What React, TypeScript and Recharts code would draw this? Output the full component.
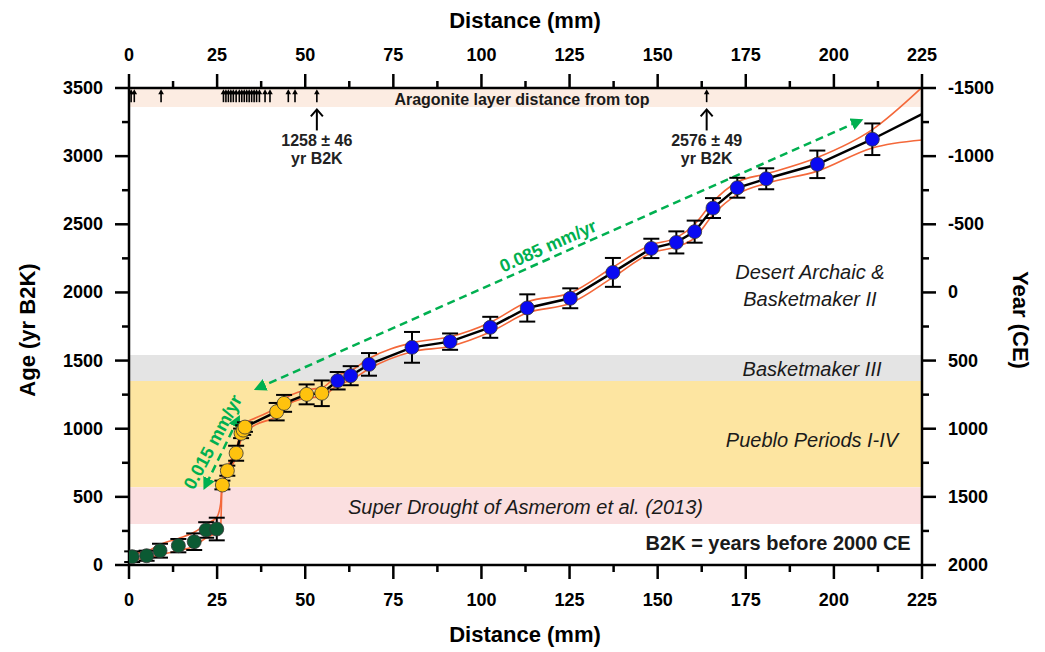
import React from 'react';
import {
  ComposedChart, Line, Scatter, XAxis, YAxis, ErrorBar,
  ReferenceArea, ReferenceLine, ReferenceDot,
} from 'recharts';

// U-Th ages: distance from top (mm), age (yr B2K), 2-sigma error
const greenDist = [0.9, 5.0, 8.8, 14.0, 18.5, 21.9, 24.9];
const greenAge = [61, 68, 105, 142, 171, 257, 264];
const greenErr = [39, 37, 51, 49, 61, 57, 83];

const yellowDist = [26.5, 27.9, 30.4, 31.8, 32.4, 32.9, 41.9, 44.0, 50.4, 54.7];
const yellowAge = [587, 692, 820, 966, 990, 1012, 1125, 1186, 1252, 1260];
const yellowErr = [32, 37, 55, 35, 35, 35, 64, 62, 73, 94];

const blueDist = [59.2, 62.9, 68.1, 80.3, 91.1, 102.5, 113.0, 125.2, 137.3, 148.2, 155.3, 160.5, 165.7, 172.6, 180.8, 195.3, 210.9];
const blueAge = [1352, 1389, 1472, 1597, 1639, 1744, 1886, 1957, 2147, 2323, 2367, 2446, 2619, 2768, 2834, 2940, 3124];
const blueErr = [64, 70, 83, 113, 60, 77, 100, 73, 106, 71, 81, 81, 73, 73, 77, 101, 116];

// age model (median) and its confidence bounds
const modelDist = [26.5, 27.9, 30.4, 31.8, 32.4, 32.9, 41.9, 44.0, 50.4, 54.7, 59.2, 62.9, 68.1, 80.3, 91.1, 102.5, 113.0, 125.2, 137.3, 148.2, 155.3, 160.5, 165.7, 172.6, 180.8, 195.3, 210.9, 225];
const modelAge = [587, 692, 820, 966, 990, 1012, 1125, 1186, 1252, 1260, 1352, 1389, 1472, 1597, 1639, 1744, 1886, 1957, 2147, 2323, 2367, 2446, 2619, 2768, 2834, 2940, 3124, 3309];

const boundDist = [0, 5, 8.8, 14, 18.5, 21.9, 24.9, 26.0, 26.4, 27.9, 30.4, 32.4, 36, 41.9, 44, 50.4, 54.7, 59.2, 62.9, 68.1, 80.3, 91.1, 102.5, 113, 125.2, 137.3, 148.2, 155.3, 160.5, 165.7, 172.6, 180.8, 195.3, 210.9, 225];
const upperAge = [80, 100, 150, 195, 240, 300, 350, 450, 615, 720, 850, 1030, 1080, 1160, 1215, 1285, 1300, 1390, 1425, 1515, 1630, 1675, 1780, 1930, 1995, 2185, 2350, 2400, 2500, 2665, 2810, 2870, 2990, 3195, 3505];
const lowerAge = [40, 50, 75, 105, 140, 200, 240, 280, 560, 665, 790, 960, 1030, 1095, 1160, 1225, 1235, 1320, 1355, 1440, 1565, 1605, 1710, 1850, 1920, 2110, 2290, 2335, 2400, 2570, 2720, 2800, 2890, 3060, 3118];

// aragonite layers (distance from top, mm)
const aragonite = [0.6, 1.5, 9.1, 26.8, 27.5, 28.2, 28.9, 29.6, 30.4, 31.3, 32.0, 32.7, 33.4, 34.1, 34.8, 35.5, 36.2, 37.0, 38.6, 40.0, 45.2, 47.1, 53.3, 163.9];

const xTicks = [0, 12.5, 25, 37.5, 50, 62.5, 75, 87.5, 100, 112.5, 125, 137.5, 150, 162.5, 175, 187.5, 200, 212.5, 225];
const ageTicks = [0, 250, 500, 750, 1000, 1250, 1500, 1750, 2000, 2250, 2500, 2750, 3000, 3250, 3500];
const ceTicks = [-1500, -1250, -1000, -750, -500, -250, 0, 250, 500, 750, 1000, 1250, 1500, 1750, 2000];

const pts = (d: number[], a: number[], e: number[]) => d.map((x, i) => ({ x, y: a[i], err: e[i] }));
const greenData = pts(greenDist, greenAge, greenErr);
const yellowData = pts(yellowDist, yellowAge, yellowErr);
const blueData = pts(blueDist, blueAge, blueErr);
const modelData = modelDist.map((x, i) => ({ x, y: modelAge[i] }));
const upperData = boundDist.map((x, i) => ({ x, y: upperAge[i] }));
const lowerData = boundDist.map((x, i) => ({ x, y: lowerAge[i] }));
const aragoniteData = aragonite.map((x) => ({ x, y: 3440 }));

const FONT = '"Liberation Sans", Arial, sans-serif';
const GREEN = '#00b050';
const TICK_FS = 18;

const BottomTick = ({ x, y, payload }: any) => {
  const major = payload.value % 25 === 0;
  return (
    <g>
      <line x1={x} x2={x} y1={y} y2={y + (major ? 14 : 7)} stroke="#000" strokeWidth={2.5} />
      {major && (
        <text x={x} y={y + 35} textAnchor="middle" dominantBaseline="central" fontFamily={FONT} fontWeight="bold" fontSize={TICK_FS}>
          {payload.value}
        </text>
      )}
    </g>
  );
};

const TopTick = ({ x, y, payload }: any) => {
  const major = payload.value % 25 === 0;
  return (
    <g>
      <line x1={x} x2={x} y1={y} y2={y - (major ? 14 : 7)} stroke="#000" strokeWidth={2.5} />
      {major && (
        <text x={x} y={y - 33} textAnchor="middle" dominantBaseline="central" fontFamily={FONT} fontWeight="bold" fontSize={TICK_FS}>
          {payload.value}
        </text>
      )}
    </g>
  );
};

const LeftTick = ({ x, y, payload }: any) => {
  const major = payload.value % 500 === 0;
  return (
    <g>
      <line x1={x} x2={x - (major ? 14 : 7)} y1={y} y2={y} stroke="#000" strokeWidth={2.5} />
      {major && (
        <text x={x - 26} y={y} textAnchor="end" dominantBaseline="central" fontFamily={FONT} fontWeight="bold" fontSize={TICK_FS}>
          {payload.value}
        </text>
      )}
    </g>
  );
};

const RightTick = ({ x, y, payload }: any) => {
  const major = payload.value % 500 === 0;
  return (
    <g>
      <line x1={x} x2={x + (major ? 14 : 7)} y1={y} y2={y} stroke="#000" strokeWidth={2.5} />
      {major && (
        <text x={x + 26} y={y} textAnchor="start" dominantBaseline="central" fontFamily={FONT} fontWeight="bold" fontSize={TICK_FS}>
          {payload.value}
        </text>
      )}
    </g>
  );
};

const circle = (fill: string) => (p: any) => (
  <circle cx={p.cx} cy={p.cy} r={7} fill={fill} stroke="#333" strokeWidth={0.8} />
);
const noShape = () => <g />;

const smallArrow = (p: any) => (
  <g>
    <line x1={p.cx} x2={p.cx} y1={p.cy + 6} y2={p.cy - 3} stroke="#000" strokeWidth={1.6} />
    <path d={`M${p.cx - 2.8},${p.cy - 2} L${p.cx},${p.cy - 7} L${p.cx + 2.8},${p.cy - 2} Z`} fill="#000" />
  </g>
);

const dateNote = (line1: string) => (p: any) => (
  <g>
    <line x1={p.cx} x2={p.cx} y1={p.cy + 22} y2={p.cy + 2} stroke="#000" strokeWidth={2} />
    <path d={`M${p.cx - 6},${p.cy + 8} L${p.cx},${p.cy + 1} L${p.cx + 6},${p.cy + 8}`} fill="none" stroke="#000" strokeWidth={2} />
    <text x={p.cx} y={p.cy + 32} textAnchor="middle" dominantBaseline="central" fontFamily={FONT} fontWeight="bold" fontSize={16} fill="#222">{line1}</text>
    <text x={p.cx} y={p.cy + 50} textAnchor="middle" dominantBaseline="central" fontFamily={FONT} fontWeight="bold" fontSize={16} fill="#222">yr B2K</text>
  </g>
);

const note = (lines: string[], opts: { anchor?: string; italic?: boolean; bold?: boolean; size?: number; fill?: string; angle?: number } = {}) => (p: any) => (
  <text
    x={p.cx}
    y={p.cy}
    textAnchor={opts.anchor || 'middle'}
    dominantBaseline="central"
    fontFamily={FONT}
    fontStyle={opts.italic ? 'italic' : 'normal'}
    fontWeight={opts.bold ? 'bold' : 'normal'}
    fontSize={opts.size || 20}
    fill={opts.fill || '#1a1a1a'}
    transform={opts.angle ? `rotate(${opts.angle} ${p.cx} ${p.cy})` : undefined}
  >
    {lines.map((t, i) => (
      <tspan key={i} x={p.cx} dy={i === 0 ? -((lines.length - 1) * 13.5) : 27}>{t}</tspan>
    ))}
  </text>
);

export default function App() {
  return (
    <div style={{ position: 'absolute', left: 0, top: 0, background: '#fff' }}>
      <ComposedChart width={1045} height={652} margin={{ top: 48, right: 43, bottom: 47, left: 49 }}>
        <defs>
          <marker id="gHead" viewBox="0 0 10 10" refX="7" refY="5" markerWidth="5" markerHeight="5" orient="auto-start-reverse">
            <path d="M0,0 L10,5 L0,10 z" fill={GREEN} />
          </marker>
        </defs>
        <XAxis xAxisId="b" type="number" dataKey="x" domain={[0, 225]} ticks={xTicks} interval={0} height={40}
          allowDataOverflow tickSize={0} tickMargin={0} tick={<BottomTick />} axisLine={{ stroke: '#000', strokeWidth: 2.5 }} tickLine={false} />
        <XAxis xAxisId="t" orientation="top" type="number" dataKey="x" domain={[0, 225]} ticks={xTicks} interval={0} height={40}
          allowDataOverflow tickSize={0} tickMargin={0} tick={<TopTick />} axisLine={{ stroke: '#000', strokeWidth: 2.5 }} tickLine={false} />
        <YAxis yAxisId="l" type="number" dataKey="y" domain={[0, 3500]} ticks={ageTicks} interval={0} width={80}
          allowDataOverflow tickSize={0} tickMargin={0} tick={<LeftTick />} axisLine={{ stroke: '#000', strokeWidth: 2.5 }} tickLine={false} />
        <YAxis yAxisId="r" orientation="right" type="number" domain={[-1500, 2000]} reversed ticks={ceTicks} interval={0} width={80}
          allowDataOverflow tickSize={0} tickMargin={0} tick={<RightTick />} axisLine={{ stroke: '#000', strokeWidth: 2.5 }} tickLine={false} />

        <ReferenceArea xAxisId="b" yAxisId="l" x1={0} x2={225} y1={3360} y2={3500} fill="#fcece2" fillOpacity={1} stroke="none" />
        <ReferenceArea xAxisId="b" yAxisId="l" x1={0} x2={225} y1={1350} y2={1540} fill="#e4e4e4" fillOpacity={1} stroke="none" />
        <ReferenceArea xAxisId="b" yAxisId="l" x1={0} x2={225} y1={570} y2={1350} fill="#fde5a1" fillOpacity={1} stroke="none" />
        <ReferenceArea xAxisId="b" yAxisId="l" x1={0} x2={225} y1={300} y2={570} fill="#fbdfe0" fillOpacity={1} stroke="none" />

        <ReferenceDot xAxisId="b" yAxisId="l" x={111.5} y={3419} r={0} shape={note(['Aragonite layer distance from top'], { bold: true, size: 16 })} />
        <ReferenceDot xAxisId="b" yAxisId="l" x={193.2} y={2054} r={0} shape={note(['Desert Archaic &', 'Basketmaker II'], { italic: true })} />
        <ReferenceDot xAxisId="b" yAxisId="l" x={193.8} y={1438} r={0} shape={note(['Basketmaker III'], { italic: true })} />
        <ReferenceDot xAxisId="b" yAxisId="l" x={193.8} y={917} r={0} shape={note(['Pueblo Periods I-IV'], { italic: true })} />
        <ReferenceDot xAxisId="b" yAxisId="l" x={112.5} y={425} r={0} shape={note(['Super Drought of Asmerom et al. (2013)'], { italic: true })} />
        <ReferenceDot xAxisId="b" yAxisId="l" x={221.8} y={161} r={0} shape={note(['B2K = years before 2000 CE'], { bold: true, anchor: 'end' })} />

        <ReferenceLine xAxisId="b" yAxisId="l" segment={[{ x: 36.4, y: 1296 }, { x: 207.4, y: 3260 }]} stroke={GREEN} strokeWidth={2.5}
          strokeDasharray="8 5" markerStart="url(#gHead)" markerEnd="url(#gHead)" />
        <ReferenceLine xAxisId="b" yAxisId="l" segment={[{ x: 31.0, y: 1076 }, { x: 21.6, y: 575 }]} stroke={GREEN} strokeWidth={2.5}
          strokeDasharray="8 5" markerStart="url(#gHead)" markerEnd="url(#gHead)" />
        <ReferenceDot xAxisId="b" yAxisId="l" x={118.9} y={2340} r={0} shape={note(['0.085 mm/yr'], { bold: true, size: 18, fill: GREEN, angle: -24 })} />
        <ReferenceDot xAxisId="b" yAxisId="l" x={23.8} y={902} r={0} shape={note(['0.015 mm/yr'], { bold: true, size: 18, fill: GREEN, angle: -62 })} />

        <Scatter xAxisId="t" yAxisId="l" data={aragoniteData} dataKey="y" shape={smallArrow} isAnimationActive={false} />
        <ReferenceDot xAxisId="b" yAxisId="l" x={53.3} y={3350} r={0} shape={dateNote('1258 ± 46')} />
        <ReferenceDot xAxisId="b" yAxisId="l" x={163.9} y={3350} r={0} shape={dateNote('2576 ± 49')} />

        <Line xAxisId="b" yAxisId="l" data={upperData} dataKey="y" type="monotone" stroke="#f4683a" strokeWidth={1.6} dot={false} isAnimationActive={false} />
        <Line xAxisId="b" yAxisId="l" data={lowerData} dataKey="y" type="monotone" stroke="#f4683a" strokeWidth={1.6} dot={false} isAnimationActive={false} />
        <Line xAxisId="b" yAxisId="l" data={modelData} dataKey="y" type="linear" stroke="#000" strokeWidth={2.5} dot={false} isAnimationActive={false} />

        <Scatter xAxisId="b" yAxisId="l" data={blueData} dataKey="y" shape={circle('#0a0af2')} isAnimationActive={false}>
          <ErrorBar dataKey="err" direction="y" stroke="#000" strokeWidth={2} width={8} />
        </Scatter>
        <Scatter xAxisId="b" yAxisId="l" data={yellowData} dataKey="y" shape={circle('#ffc20e')} isAnimationActive={false} />
        <Scatter xAxisId="b" yAxisId="l" data={yellowData} dataKey="y" shape={noShape} isAnimationActive={false}>
          <ErrorBar dataKey="err" direction="y" stroke="#000" strokeWidth={2} width={8} />
        </Scatter>
        <Scatter xAxisId="b" yAxisId="l" data={greenData} dataKey="y" shape={circle('#0b5a33')} isAnimationActive={false} />
        <Scatter xAxisId="b" yAxisId="l" data={greenData} dataKey="y" shape={noShape} isAnimationActive={false}>
          <ErrorBar dataKey="err" direction="y" stroke="#000" strokeWidth={2} width={8} />
        </Scatter>

        <text x={525} y={20} textAnchor="middle" dominantBaseline="central" fontFamily={FONT} fontWeight="bold" fontSize={22}>Distance (mm)</text>
        <text x={525} y={634} textAnchor="middle" dominantBaseline="central" fontFamily={FONT} fontWeight="bold" fontSize={22}>Distance (mm)</text>
        <text x={27} y={330} textAnchor="middle" dominantBaseline="central" fontFamily={FONT} fontWeight="bold" fontSize={22} transform="rotate(-90 27 330)">Age (yr B2K)</text>
        <text x={1020} y={320} textAnchor="middle" dominantBaseline="central" fontFamily={FONT} fontWeight="bold" fontSize={22} transform="rotate(90 1020 320)">Year (CE)</text>
      </ComposedChart>
    </div>
  );
}
